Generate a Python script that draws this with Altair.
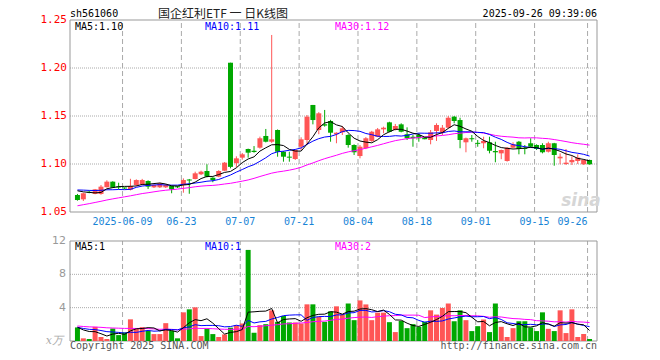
import altair as alt
import numpy as np
import pandas as pd

# ---------------- data ----------------
symbol = "sh561060"
title_text = "国企红利ETF 一 日K线图"
timestamp = "2025-09-26 09:39:06"

dates = [d.strftime("%Y-%m-%d") for d in
         pd.bdate_range("2025-05-27", "2025-09-26", freq="C", holidays=["2025-06-02"])]

opens = [1.0677, 1.0632, 1.0708, 1.0688, 1.0688, 1.0758, 1.0816, 1.0764, 1.0752, 1.0732,
         1.0781, 1.0785, 1.0823, 1.0757, 1.0757, 1.0757, 1.0771, 1.0768, 1.0781, 1.0837,
         1.0844, 1.0893, 1.0927, 1.0857, 1.0868, 1.0930, 1.2055, 1.1008, 1.1066, 1.1156,
         1.1138, 1.1170, 1.1292, 1.1232, 1.1354, 1.1128, 1.1076, 1.1052, 1.1180, 1.1250,
         1.1615, 1.1354, 1.1414, 1.1448, 1.1310, 1.1330, 1.1302, 1.1198, 1.1083, 1.1164,
         1.1240, 1.1284, 1.1361, 1.1434, 1.1354, 1.1413, 1.1310, 1.1284, 1.1302, 1.1278,
         1.1250, 1.1344, 1.1330, 1.1378, 1.1493, 1.1458, 1.1226, 1.1268, 1.1216, 1.1216,
         1.1226, 1.1135, 1.1111, 1.1031, 1.1170, 1.1232, 1.1164, 1.1216, 1.1198, 1.1198,
         1.1128, 1.1216, 1.1059, 1.1000, 1.1018, 1.1031, 1.0997, 1.1042]

closes = [1.0625, 1.0695, 1.0700, 1.0736, 1.0764, 1.0816, 1.0753, 1.0755, 1.0745, 1.0770,
          1.0833, 1.0833, 1.0764, 1.0781, 1.0799, 1.0781, 1.0736, 1.0757, 1.0833, 1.0828,
          1.0903, 1.0920, 1.0868, 1.0833, 1.0927, 1.1014, 1.0970, 1.1059, 1.1101, 1.1118,
          1.1125, 1.1268, 1.1232, 1.1257, 1.1128, 1.1076, 1.1066, 1.1146, 1.1257, 1.1493,
          1.1458, 1.1528, 1.1400, 1.1326, 1.1326, 1.1372, 1.1198, 1.1122, 1.1180, 1.1268,
          1.1336, 1.1361, 1.1378, 1.1336, 1.1396, 1.1336, 1.1268, 1.1268, 1.1268, 1.1258,
          1.1330, 1.1406, 1.1378, 1.1482, 1.1448, 1.1250, 1.1268, 1.1258, 1.1210, 1.1240,
          1.1138, 1.1122, 1.1146, 1.1170, 1.1205, 1.1156, 1.1156, 1.1180, 1.1156, 1.1122,
          1.1216, 1.1094, 1.1076, 1.1014, 1.1042, 1.1066, 1.1042, 1.0997]

highs = [1.0688, 1.0701, 1.0722, 1.0740, 1.0781, 1.0830, 1.0820, 1.0805, 1.0755, 1.0846,
         1.0840, 1.0845, 1.0830, 1.0785, 1.0805, 1.0790, 1.0775, 1.0771, 1.0850, 1.0844,
         1.0920, 1.0930, 1.0997, 1.0862, 1.0935, 1.1020, 1.2055, 1.1080, 1.1115, 1.1160,
         1.1187, 1.1285, 1.1365, 1.2344, 1.1360, 1.1135, 1.1128, 1.1150, 1.1278, 1.1510,
         1.1615, 1.1540, 1.1563, 1.1460, 1.1330, 1.1396, 1.1310, 1.1205, 1.1198, 1.1280,
         1.1345, 1.1375, 1.1389, 1.1440, 1.1417, 1.1424, 1.1382, 1.1302, 1.1320, 1.1278,
         1.1354, 1.1424, 1.1406, 1.1500, 1.1500, 1.1482, 1.1275, 1.1302, 1.1250, 1.1284,
         1.1284, 1.1232, 1.1150, 1.1175, 1.1226, 1.1240, 1.1198, 1.1268, 1.1205, 1.1216,
         1.1232, 1.1220, 1.1111, 1.1156, 1.1080, 1.1101, 1.1050, 1.1045]

lows = [1.0618, 1.0615, 1.0695, 1.0685, 1.0680, 1.0755, 1.0750, 1.0736, 1.0738, 1.0725,
        1.0770, 1.0778, 1.0740, 1.0750, 1.0750, 1.0750, 1.0695, 1.0750, 1.0701, 1.0690,
        1.0840, 1.0885, 1.0860, 1.0810, 1.0862, 1.0925, 1.0955, 1.0966, 1.1045, 1.1066,
        1.1118, 1.1160, 1.1225, 1.1220, 1.1076, 1.1024, 1.1024, 1.1042, 1.1146, 1.1198,
        1.1413, 1.1310, 1.1389, 1.1232, 1.1216, 1.1302, 1.1170, 1.1094, 1.1059, 1.1155,
        1.1230, 1.1280, 1.1320, 1.1330, 1.1350, 1.1330, 1.1250, 1.1180, 1.1232, 1.1257,
        1.1205, 1.1240, 1.1302, 1.1370, 1.1424, 1.1164, 1.1122, 1.1232, 1.1180, 1.1164,
        1.1111, 1.1018, 1.1050, 1.1025, 1.1165, 1.1101, 1.1101, 1.1175, 1.1146, 1.1111,
        1.1120, 1.0982, 1.0997, 1.0990, 1.0990, 1.1000, 1.0990, 1.0993]

# volume, in units of 10k (万)
volumes = [1.63, 0.32, 0.24, 1.70, 0.48, 0.24, 1.50, 0.71, 1.03, 2.60,
           1.50, 1.66, 1.23, 0.83, 0.83, 2.14, 1.23, 0.32, 3.44, 3.80,
           4.04, 0.59, 1.46, 0.83, 0.48, 0.79, 1.60, 1.90, 2.10, 10.93,
           0.99, 1.90, 2.02, 3.68, 2.30, 3.00, 2.22, 2.22, 2.10, 4.40,
           4.40, 2.90, 2.30, 3.56, 4.16, 3.17, 4.50, 2.50, 4.87, 4.39,
           2.50, 3.40, 3.40, 2.26, 1.07, 2.41, 1.54, 2.02, 1.70, 2.30,
           3.68, 3.17, 3.96, 4.50, 2.37, 3.68, 2.50, 1.19, 1.78, 2.58,
           1.07, 4.50, 1.70, 0.48, 1.54, 2.37, 2.37, 1.62, 1.19, 3.44,
           1.46, 1.19, 3.68, 0.95, 3.80, 0.48, 0.83, 0.24]

# sessions before the visible window (estimated from where the MA lines start)
warmup_closes = [1.0355, 1.0375, 1.0365, 1.0395, 1.0415, 1.0405, 1.0435, 1.0425, 1.0455, 1.0475,
                 1.0485, 1.0505, 1.0495, 1.0525, 1.0555, 1.0575, 1.0565, 1.0595, 1.0615, 1.0635,
                 1.0710, 1.0730, 1.0750, 1.0740, 1.0760, 1.0750, 1.0730, 1.0760, 1.0740]
warmup_volumes = [2.1, 1.6, 2.4, 1.5, 1.9, 2.2, 1.4, 1.8, 2.6, 1.7,
                  1.5, 2.0, 1.9, 2.3, 1.6, 1.8, 2.1, 1.5, 1.9, 1.8,
                  1.7, 1.3, 2.0, 1.6, 1.6, 1.9, 1.2, 1.8, 1.7]

price_ticks = [1.05, 1.10, 1.15, 1.20, 1.25]
price_grid = [1.10, 1.15, 1.20]
volume_ticks = [4, 8, 12]
volume_grid = [4, 8]
grid_dates = ["2025-06-09", "2025-06-23", "2025-07-07", "2025-07-21", "2025-08-04",
              "2025-08-18", "2025-09-01", "2025-09-15", "2025-09-26"]
grid_labels = ["2025-06-09", "06-23", "07-07", "07-21", "08-04",
               "08-18", "09-01", "09-15", "09-26"]

# ---------------- tables ----------------
n = len(dates)
df = pd.DataFrame({"i": range(n), "date": dates, "open": opens, "close": closes,
                   "high": highs, "low": lows, "vol": volumes})
df["dir"] = np.where(df["close"] >= df["open"], "up", "down")
blo = df[["open", "close"]].min(axis=1)
bhi = df[["open", "close"]].max(axis=1)
df["body_lo"] = blo
df["body_hi"] = np.maximum(bhi, blo + 0.00105)
cs = pd.Series(warmup_closes + closes)
vs = pd.Series(warmup_volumes + volumes)
w = len(warmup_closes)
for k in (5, 10, 30):
    df[f"ma{k}"] = cs.rolling(k).mean().iloc[w:].to_numpy()
    df[f"vma{k}"] = vs.rolling(k).mean().iloc[w:].to_numpy()

gdf = pd.DataFrame({"i": [dates.index(d) for d in grid_dates], "lab": grid_labels,
                    "plo": 1.05, "phi": 1.25, "vlo": 0, "vhi": 12})
pt = pd.DataFrame({"p": price_ticks})
pg = pd.DataFrame({"p": price_grid})
vt = pd.DataFrame({"v": volume_ticks})
vg = pd.DataFrame({"v": volume_grid})
pframe = pd.DataFrame({"lo": [1.05], "hi": [1.25]})
vframe = pd.DataFrame({"lo": [0], "hi": [12]})
one = pd.DataFrame({"k": [0]})

# ---------------- geometry & style ----------------
W, H = 527, 321
RED, GREEN = "#FF5555", "#00A800"
GRID = "#AAAAAA"
FRAME = "#999999"
MONO = "DejaVu Sans Mono"

X_SCALE = alt.Scale(domain=[-2.5 / 6, (W - 2.5) / 6], nice=False, zero=False)
P_SCALE = alt.Scale(domain=[1.25 - H / 960, 1.25], nice=False, zero=False)
V_SCALE = alt.Scale(domain=[0, H * 12 / 100], nice=False, zero=False)


def xe():
    return alt.X("i:Q", scale=X_SCALE, axis=None)


def py(f):
    return alt.Y(f, scale=P_SCALE, axis=None)


def vy(f):
    return alt.Y(f, scale=V_SCALE, axis=None)


color = alt.Color("dir:N", scale=alt.Scale(domain=["up", "down"], range=[RED, GREEN]), legend=None)

# ---------------- price panel ----------------
p_hgrid = alt.Chart(pg).mark_rule(color=GRID, strokeDash=[1, 1], strokeWidth=1).encode(
    x=alt.value(0), x2=alt.value(W + 1), y=py("p:Q"))
p_vgrid = alt.Chart(gdf).mark_rule(color=GRID, strokeDash=[5, 3], strokeWidth=1, xOffset=-2).encode(
    x=xe(), y=py("plo:Q"), y2="phi:Q")
p_frame = alt.Chart(pframe).mark_rect(fillOpacity=0, stroke=FRAME, strokeWidth=1).encode(
    x=alt.value(0), x2=alt.value(W), y=py("lo:Q"), y2="hi:Q")
p_ticks = alt.Chart(pt).mark_text(align="right", baseline="middle", dx=-3, font=MONO,
                                  fontSize=11, color="#FF0000").encode(
    x=alt.value(0), y=py("p:Q"), text=alt.Text("p:Q", format=".2f"))
wick = alt.Chart(df).mark_rule(strokeWidth=1).encode(x=xe(), y=py("low:Q"), y2="high:Q", color=color)
body = alt.Chart(df).mark_bar(size=5).encode(x=xe(), y=py("body_lo:Q"), y2="body_hi:Q", color=color)
ma30 = alt.Chart(df).mark_line(color="#FF00FF", strokeWidth=1).encode(x=xe(), y=py("ma30:Q"))
ma10 = alt.Chart(df).mark_line(color="#0000FF", strokeWidth=1).encode(x=xe(), y=py("ma10:Q"))
ma5 = alt.Chart(df).mark_line(color="#000000", strokeWidth=1).encode(x=xe(), y=py("ma5:Q"))

price = alt.layer(p_hgrid, p_vgrid, p_frame, p_ticks, wick, body, ma30, ma10, ma5)

# ---------------- volume panel ----------------
v_hgrid = alt.Chart(vg).mark_rule(color=GRID, strokeDash=[1, 1], strokeWidth=1).encode(
    x=alt.value(0), x2=alt.value(W + 1), y=vy("v:Q"))
v_vgrid = alt.Chart(gdf).mark_rule(color=GRID, strokeDash=[5, 3], strokeWidth=1, xOffset=-2).encode(
    x=xe(), y=vy("vlo:Q"), y2="vhi:Q")
v_frame = alt.Chart(vframe).mark_rect(fillOpacity=0, stroke=FRAME, strokeWidth=1).encode(
    x=alt.value(0), x2=alt.value(W), y=vy("lo:Q"), y2="hi:Q")
v_ticks = alt.Chart(vt).mark_text(align="right", baseline="middle", dx=-4, font="DejaVu Sans",
                                  fontSize=11, color="#999999").encode(
    x=alt.value(0), y=vy("v:Q"), text="v:Q")
vbar = alt.Chart(df).mark_bar(size=5).encode(x=xe(), y=vy("vol:Q"), y2=alt.Y2(datum=0), color=color)
vma30 = alt.Chart(df).mark_line(color="#FF00FF", strokeWidth=1).encode(x=xe(), y=vy("vma30:Q"))
vma10 = alt.Chart(df).mark_line(color="#0000FF", strokeWidth=1).encode(x=xe(), y=vy("vma10:Q"))
vma5 = alt.Chart(df).mark_line(color="#000000", strokeWidth=1).encode(x=xe(), y=vy("vma5:Q"))

volume = alt.layer(v_hgrid, v_vgrid, v_frame, v_ticks, vbar, vma30, vma10, vma5)

# ---------------- texts ----------------
DATE_BLUE = "#1884D6"
date_lab = alt.Chart(gdf.iloc[:-1]).mark_text(align="center", baseline="alphabetic", xOffset=-2,
                                              font=MONO, fontSize=10, color=DATE_BLUE).encode(
    x=xe(), y=alt.value(205), text="lab:N")
date_last = alt.Chart(gdf.iloc[-1:]).mark_text(align="right", baseline="alphabetic", xOffset=-2,
                                               font=MONO, fontSize=10, color=DATE_BLUE).encode(
    x=xe(), y=alt.value(205), text="lab:N")


def label(text, x, y, color="#000000", align="left", font=MONO, size=10, **kw):
    return alt.Chart(one).mark_text(text=text, align=align, baseline="alphabetic", font=font,
                                    fontSize=size, color=color, **kw).encode(
        x=alt.value(x), y=alt.value(y))


texts = [
    label(symbol, 0, -3),
    label(title_text, 153, -2, color="#222222", align="center", font="Noto Sans CJK SC", size=12),
    label(timestamp, W, -3, align="right"),
    label("MA5:1.10", 5, 10),
    label("MA10:1.11", 135, 10, color="#0000FF"),
    label("MA30:1.12", 265, 10, color="#FF00FF"),
    label("MA5:1", 5, 230),
    label("MA10:1", 135, 230, color="#0000FF"),
    label("MA30:2", 265, 230, color="#FF00FF"),
    label("x万", -7, 324, color="#AAAAAA", align="right", font="DejaVu Serif", size=11, fontStyle="italic"),
    label("Copyright 2025 SINA.COM", 0, 329, color="#555555"),
    label("http://finance.sina.com.cn", W, 329, color="#555555", align="right"),
    label("sina", 511, 186, color="#D6D6D6", align="center", font="DejaVu Sans", size=17,
          fontStyle="italic", fontWeight="bold"),
]

chart = alt.layer(price, volume, date_lab, date_last, *texts).resolve_scale(y="independent").properties(
    width=W, height=H,
    autosize=alt.AutoSizeParams(type="none"),
    padding={"left": 62, "top": 12, "right": 55, "bottom": 11},
).configure_view(stroke="transparent")

chart.save("out.html", embed_options={"renderer": "svg", "actions": False})
